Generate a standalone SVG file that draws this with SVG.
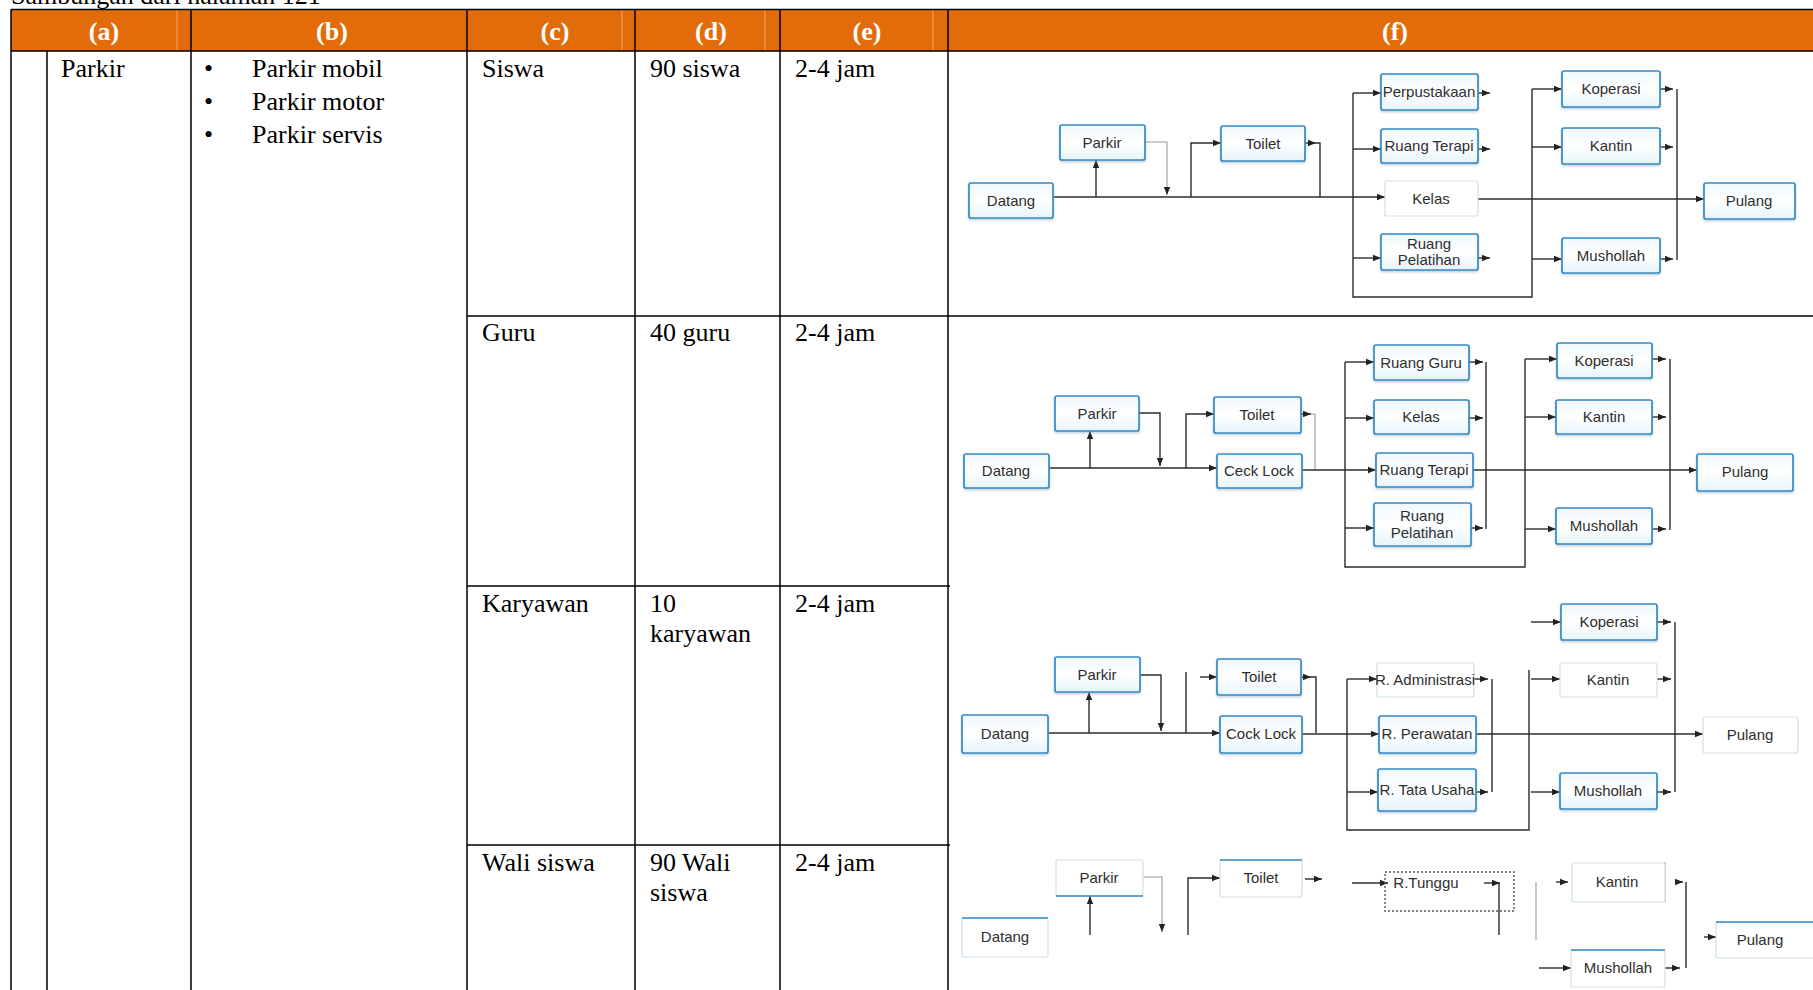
<svg xmlns="http://www.w3.org/2000/svg" width="1813" height="990" viewBox="0 0 1813 990">
<style>
.tl{stroke:#000;stroke-width:1.5;fill:none}
.hl{stroke:#f3a566;stroke-width:1;fill:none}
.hd{font-family:"Liberation Serif","Times New Roman",serif;font-size:26px;font-weight:bold;fill:#fff;text-anchor:middle}
.tx{font-family:"Liberation Serif","Times New Roman",serif;font-size:26px;fill:#000}
.box{fill:url(#bg);stroke:#3589c4;stroke-width:1.7}
.faint{fill:#fff;stroke:#cfe0ec;stroke-width:1.2}
.dot{fill:none;stroke:#555;stroke-width:1.4;stroke-dasharray:2 2}
.lb{font-family:"Liberation Sans",Arial,sans-serif;font-size:15px;fill:#2e2e2e;text-anchor:middle}
.c{fill:none;stroke:#2b2b2b;stroke-width:1.4}
.cf{fill:none;stroke:#9a9a9a;stroke-width:1.1}
.a{marker-end:url(#ah)}
</style>
<defs>
<linearGradient id="bg" x1="0" y1="0" x2="0" y2="1">
<stop offset="0" stop-color="#eef8fd"/>
<stop offset="0.5" stop-color="#ffffff"/>
<stop offset="1" stop-color="#e6f4fb"/>
</linearGradient>
<filter id="sh" x="-10%" y="-10%" width="125%" height="140%">
<feDropShadow dx="0" dy="1.5" stdDeviation="1" flood-color="#7f9fb5" flood-opacity="0.5"/>
</filter>
<marker id="ah" viewBox="0 0 10 10" refX="10" refY="5" markerWidth="8" markerHeight="8" orient="auto" markerUnits="userSpaceOnUse">
<path d="M0,1 L10,5 L0,9 z" fill="#222"/>
</marker>
</defs>
<rect width="1813" height="990" fill="#fff"/>

<!-- page text -->
<text x="11" y="4" font-family="Liberation Serif, Times New Roman, serif" font-size="26" fill="#000">Sambungan dari halaman 121</text>

<!-- table -->
<g id="table">
<rect x="11" y="10" width="1802" height="41" fill="#e36c0a"/>
<path class="hl" d="M177,10V51M622,10V51M765,10V51M933,10V51"/>
<path class="tl" d="M11,9.5H1813M11,51H1813M11,9.5V990M191,9.5V990M467,9.5V990M635,9.5V990M780,9.5V990M948,9.5V990M47,51V990M467,316H1813M467,586H950M467,845H950"/>
<text class="hd" x="104" y="40">(a)</text>
<text class="hd" x="332" y="40">(b)</text>
<text class="hd" x="555" y="40">(c)</text>
<text class="hd" x="711" y="40">(d)</text>
<text class="hd" x="867" y="40">(e)</text>
<text class="hd" x="1395" y="40">(f)</text>

<text class="tx" x="61" y="77">Parkir</text>
<text class="tx" x="204" y="77">•</text>
<text class="tx" x="252" y="77">Parkir mobil</text>
<text class="tx" x="204" y="110">•</text>
<text class="tx" x="252" y="110">Parkir motor</text>
<text class="tx" x="204" y="143">•</text>
<text class="tx" x="252" y="143">Parkir servis</text>

<text class="tx" x="482" y="77">Siswa</text>
<text class="tx" x="650" y="77">90 siswa</text>
<text class="tx" x="795" y="77">2-4 jam</text>

<text class="tx" x="482" y="341">Guru</text>
<text class="tx" x="650" y="341">40 guru</text>
<text class="tx" x="795" y="341">2-4 jam</text>

<text class="tx" x="482" y="612">Karyawan</text>
<text class="tx" x="650" y="612">10</text>
<text class="tx" x="650" y="642">karyawan</text>
<text class="tx" x="795" y="612">2-4 jam</text>

<text class="tx" x="482" y="871">Wali siswa</text>
<text class="tx" x="650" y="871">90 Wali</text>
<text class="tx" x="650" y="901">siswa</text>
<text class="tx" x="795" y="871">2-4 jam</text>
</g>

<!-- ============ connectors ============ -->
<g id="connectors">
<!-- diagram 1 : Siswa -->
<path class="c a" d="M1053,197H1385"/>
<path class="c a" d="M1096,197V160"/>
<path class="cf a" d="M1145,142H1167V195"/>
<path class="c a" d="M1191,197V143H1221"/>
<path class="c a" d="M1305,143H1316"/>
<path class="c" d="M1316,143H1320V197"/>
<path class="c" d="M1353,93V297H1532V89"/>
<path class="c a" d="M1532,89H1562"/>
<path class="c a" d="M1353,93H1381"/>
<path class="c a" d="M1353,149H1381"/>
<path class="c a" d="M1353,258H1381"/>
<path class="c a" d="M1478,93H1490"/>
<path class="c a" d="M1478,149H1490"/>
<path class="c a" d="M1478,258H1490"/>
<path class="c a" d="M1532,147H1562"/>
<path class="c a" d="M1532,259H1562"/>
<path class="c a" d="M1478,199H1704"/>
<path class="c a" d="M1660,89H1673"/>
<path class="c a" d="M1660,147H1673"/>
<path class="c a" d="M1660,259H1673"/>
<path class="c" d="M1677,89V260"/>

<!-- diagram 2 : Guru -->
<path class="c a" d="M1049,468H1217"/>
<path class="c a" d="M1090,468V431"/>
<path class="c a" d="M1139,413H1160V466"/>
<path class="c a" d="M1186,468V414H1214"/>
<path class="c a" d="M1301,414H1311"/>
<path class="cf" d="M1311,414H1315V470"/>
<path class="c a" d="M1302,470H1376"/>
<path class="c" d="M1345,362V567H1525V359"/>
<path class="c a" d="M1525,359H1557"/>
<path class="c a" d="M1345,362H1374"/>
<path class="c a" d="M1345,418H1374"/>
<path class="c a" d="M1345,528H1374"/>
<path class="c a" d="M1469,362H1483"/>
<path class="c a" d="M1469,418H1483"/>
<path class="c a" d="M1471,528H1483"/>
<path class="c" d="M1486,362V529"/>
<path class="c a" d="M1473,470H1697"/>
<path class="c a" d="M1525,417H1556"/>
<path class="c a" d="M1525,529H1556"/>
<path class="c a" d="M1652,359H1666"/>
<path class="c a" d="M1652,417H1666"/>
<path class="c a" d="M1652,529H1666"/>
<path class="c" d="M1670,359V530"/>

<!-- diagram 3 : Karyawan -->
<path class="c a" d="M1048,733H1220"/>
<path class="c a" d="M1089,733V692"/>
<path class="c a" d="M1140,675H1161V731"/>
<path class="c" d="M1186,733V672"/>
<path class="c a" d="M1200,677H1217"/>
<path class="c a" d="M1301,677H1311"/>
<path class="c" d="M1311,677H1316V733"/>
<path class="c a" d="M1302,734H1379"/>
<path class="c" d="M1347,679V830H1529V670"/>
<path class="c a" d="M1347,679H1377"/>
<path class="c a" d="M1347,792H1378"/>
<path class="c a" d="M1474,679H1488"/>
<path class="c a" d="M1476,792H1488"/>
<path class="c" d="M1492,679V792"/>
<path class="c a" d="M1476,734H1703"/>
<path class="c a" d="M1531,622H1561"/>
<path class="c a" d="M1531,679H1560"/>
<path class="c a" d="M1531,792H1560"/>
<path class="c a" d="M1657,622H1671"/>
<path class="c a" d="M1657,679H1671"/>
<path class="c a" d="M1657,792H1671"/>
<path class="c" d="M1675,622V792"/>

<!-- diagram 4 : Wali siswa -->
<path class="c a" d="M1090,935V896"/>
<path class="cf a" d="M1143,877H1162V932"/>
<path class="c a" d="M1188,935V878H1220"/>
<path class="c a" d="M1305,879H1322"/>
<path class="c a" d="M1352,883H1388"/>
<path class="c a" d="M1484,883H1500"/>
<path class="c" d="M1499,883V935"/>
<path class="cf" d="M1536,882V940"/>
<path class="c a" d="M1556,882H1568"/>
<path class="cf" d="M1665,862V902"/>
<path class="c a" d="M1675,882H1683"/>
<path class="c a" d="M1539,968H1571"/>
<path class="c a" d="M1665,968H1680"/>
<path class="c" d="M1686,882V968"/>
<path class="c a" d="M1704,937H1716"/>
</g>

<!-- ============ nodes diagram 1 ============ -->
<g id="d1-datang"><rect class="box" filter="url(#sh)" x="969" y="183" width="84" height="35" rx="2"/><text class="lb" x="1011" y="206">Datang</text></g>
<g id="d1-parkir"><rect class="box" filter="url(#sh)" x="1060" y="125" width="85" height="35" rx="2"/><text class="lb" x="1102" y="148">Parkir</text></g>
<g id="d1-toilet"><rect class="box" filter="url(#sh)" x="1221" y="126" width="84" height="35" rx="2"/><text class="lb" x="1263" y="149">Toilet</text></g>
<g id="d1-perpustakaan"><rect class="box" filter="url(#sh)" x="1381" y="74" width="97" height="36" rx="2"/><text class="lb" x="1429" y="97" font-size="14.5">Perpustakaan</text></g>
<g id="d1-ruang-terapi"><rect class="box" filter="url(#sh)" x="1381" y="129" width="97" height="34" rx="2"/><text class="lb" x="1429" y="151">Ruang Terapi</text></g>
<g id="d1-kelas"><rect class="faint" x="1385" y="181" width="93" height="35" rx="2"/><text class="lb" x="1431" y="204">Kelas</text></g>
<g id="d1-ruang-pelatihan"><rect class="box" filter="url(#sh)" x="1381" y="234" width="97" height="36" rx="2"/><text class="lb" x="1429" y="249">Ruang</text><text class="lb" x="1429" y="265">Pelatihan</text></g>
<g id="d1-koperasi"><rect class="box" filter="url(#sh)" x="1562" y="71" width="98" height="36" rx="2"/><text class="lb" x="1611" y="94">Koperasi</text></g>
<g id="d1-kantin"><rect class="box" filter="url(#sh)" x="1562" y="128" width="98" height="36" rx="2"/><text class="lb" x="1611" y="151">Kantin</text></g>
<g id="d1-mushollah"><rect class="box" filter="url(#sh)" x="1562" y="238" width="98" height="35" rx="2"/><text class="lb" x="1611" y="261">Mushollah</text></g>
<g id="d1-pulang"><rect class="box" filter="url(#sh)" x="1704" y="183" width="91" height="36" rx="2"/><text class="lb" x="1749" y="206">Pulang</text></g>

<!-- ============ nodes diagram 2 ============ -->
<g id="d2-datang"><rect class="box" filter="url(#sh)" x="964" y="454" width="85" height="34" rx="2"/><text class="lb" x="1006" y="476">Datang</text></g>
<g id="d2-parkir"><rect class="box" filter="url(#sh)" x="1055" y="396" width="84" height="35" rx="2"/><text class="lb" x="1097" y="419">Parkir</text></g>
<g id="d2-toilet"><rect class="box" filter="url(#sh)" x="1214" y="397" width="87" height="36" rx="2"/><text class="lb" x="1257" y="420">Toilet</text></g>
<g id="d2-ceck-lock"><rect class="box" filter="url(#sh)" x="1217" y="454" width="85" height="34" rx="2"/><text class="lb" x="1259" y="476">Ceck Lock</text></g>
<g id="d2-ruang-guru"><rect class="box" filter="url(#sh)" x="1374" y="345" width="95" height="35" rx="2"/><text class="lb" x="1421" y="368">Ruang Guru</text></g>
<g id="d2-kelas"><rect class="box" filter="url(#sh)" x="1374" y="400" width="95" height="34" rx="2"/><text class="lb" x="1421" y="422">Kelas</text></g>
<g id="d2-ruang-terapi"><rect class="box" filter="url(#sh)" x="1376" y="453" width="97" height="34" rx="2"/><text class="lb" x="1424" y="475">Ruang Terapi</text></g>
<g id="d2-ruang-pelatihan"><rect class="box" filter="url(#sh)" x="1374" y="503" width="97" height="43" rx="2"/><text class="lb" x="1422" y="521">Ruang</text><text class="lb" x="1422" y="538">Pelatihan</text></g>
<g id="d2-koperasi"><rect class="box" filter="url(#sh)" x="1557" y="343" width="95" height="35" rx="2"/><text class="lb" x="1604" y="366">Koperasi</text></g>
<g id="d2-kantin"><rect class="box" filter="url(#sh)" x="1556" y="400" width="96" height="34" rx="2"/><text class="lb" x="1604" y="422">Kantin</text></g>
<g id="d2-mushollah"><rect class="box" filter="url(#sh)" x="1556" y="508" width="96" height="36" rx="2"/><text class="lb" x="1604" y="531">Mushollah</text></g>
<g id="d2-pulang"><rect class="box" filter="url(#sh)" x="1697" y="454" width="96" height="37" rx="2"/><text class="lb" x="1745" y="477">Pulang</text></g>

<!-- ============ nodes diagram 3 ============ -->
<g id="d3-datang"><rect class="box" filter="url(#sh)" x="962" y="715" width="86" height="38" rx="2"/><text class="lb" x="1005" y="739">Datang</text></g>
<g id="d3-parkir"><rect class="box" filter="url(#sh)" x="1055" y="657" width="85" height="35" rx="2"/><text class="lb" x="1097" y="680">Parkir</text></g>
<g id="d3-toilet"><rect class="box" filter="url(#sh)" x="1217" y="659" width="84" height="36" rx="2"/><text class="lb" x="1259" y="682">Toilet</text></g>
<g id="d3-cock-lock"><rect class="box" filter="url(#sh)" x="1220" y="716" width="82" height="37" rx="2"/><text class="lb" x="1261" y="739" font-size="14">Cock Lock</text></g>
<g id="d3-r-administrasi"><rect class="faint" x="1377" y="663" width="97" height="34" rx="2"/><text class="lb" x="1425" y="685" font-size="13.5">R. Administrasi</text></g>
<g id="d3-r-perawatan"><rect class="box" filter="url(#sh)" x="1379" y="716" width="97" height="37" rx="2"/><text class="lb" x="1427" y="739">R. Perawatan</text></g>
<g id="d3-r-tata-usaha"><rect class="box" filter="url(#sh)" x="1378" y="769" width="98" height="42" rx="2"/><text class="lb" x="1427" y="795" font-size="14">R. Tata Usaha</text></g>
<g id="d3-koperasi"><rect class="box" filter="url(#sh)" x="1561" y="604" width="96" height="36" rx="2"/><text class="lb" x="1609" y="627">Koperasi</text></g>
<g id="d3-kantin"><rect class="faint" x="1560" y="663" width="97" height="34" rx="2"/><text class="lb" x="1608" y="685">Kantin</text></g>
<g id="d3-mushollah"><rect class="box" filter="url(#sh)" x="1560" y="773" width="97" height="36" rx="2"/><text class="lb" x="1608" y="796">Mushollah</text></g>
<g id="d3-pulang"><rect class="faint" x="1703" y="717" width="95" height="36" rx="2"/><text class="lb" x="1750" y="740">Pulang</text></g>

<!-- ============ nodes diagram 4 ============ -->
<g id="d4-datang"><rect class="faint" x="962" y="918" width="86" height="39" rx="2"/><path d="M962,918H1048" stroke="#3589c4" stroke-width="1.7"/><text class="lb" x="1005" y="942">Datang</text></g>
<g id="d4-parkir"><rect class="faint" x="1056" y="860" width="87" height="36" rx="2"/><path d="M1056,896H1143" stroke="#3589c4" stroke-width="1.7"/><text class="lb" x="1099" y="883">Parkir</text></g>
<g id="d4-toilet"><rect class="faint" x="1220" y="860" width="82" height="37" rx="2"/><path d="M1220,860H1302" stroke="#3589c4" stroke-width="1.7"/><text class="lb" x="1261" y="883">Toilet</text></g>
<g id="d4-r-tunggu"><rect class="dot" x="1385" y="872" width="129" height="39"/><text class="lb" x="1426" y="888">R.Tunggu</text></g>
<g id="d4-kantin"><rect class="faint" x="1572" y="863" width="93" height="39" rx="2"/><text class="lb" x="1617" y="887">Kantin</text></g>
<g id="d4-mushollah"><rect class="faint" x="1571" y="950" width="94" height="37" rx="2"/><path d="M1571,950H1665" stroke="#3589c4" stroke-width="1.7"/><text class="lb" x="1618" y="973">Mushollah</text></g>
<g id="d4-pulang"><rect class="faint" x="1716" y="922" width="100" height="36" rx="2"/><path d="M1716,922H1813" stroke="#3589c4" stroke-width="1.7"/><text class="lb" x="1760" y="945">Pulang</text></g>
</svg>
